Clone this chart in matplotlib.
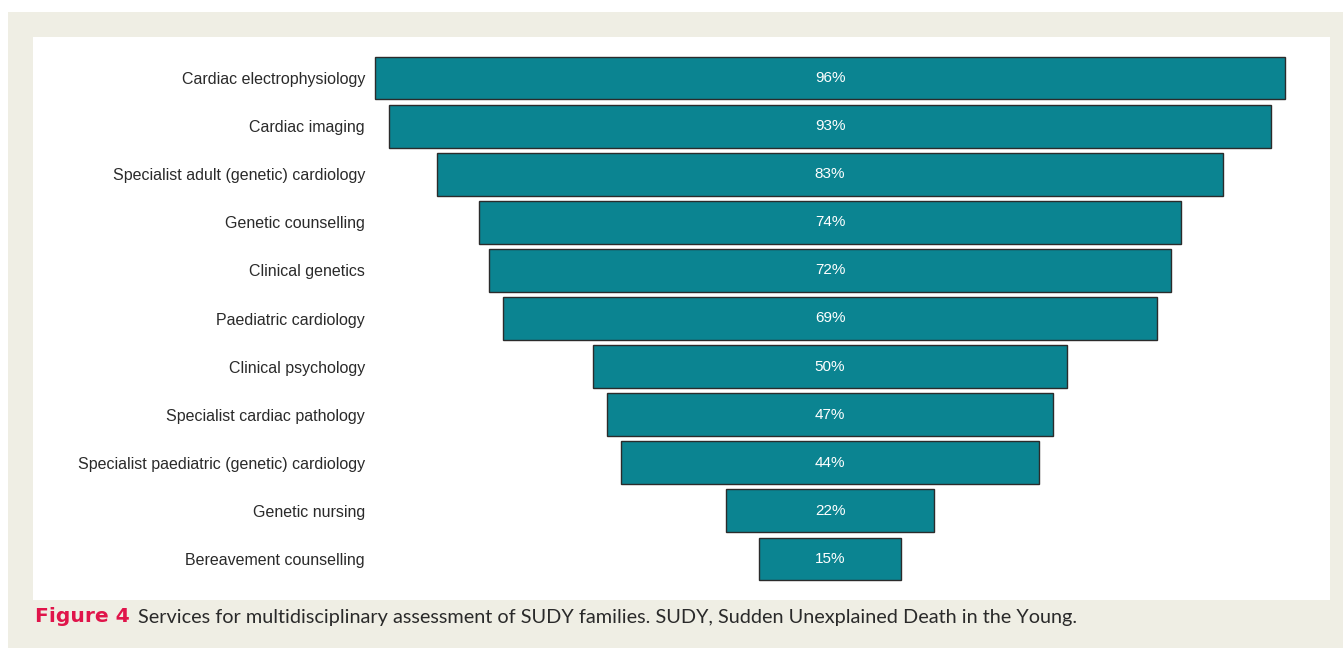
import matplotlib
matplotlib.use("Agg")
import matplotlib.pyplot as plt
from matplotlib.patches import Rectangle

categories = [
    "Cardiac electrophysiology",
    "Cardiac imaging",
    "Specialist adult (genetic) cardiology",
    "Genetic counselling",
    "Clinical genetics",
    "Paediatric cardiology",
    "Clinical psychology",
    "Specialist cardiac pathology",
    "Specialist paediatric (genetic) cardiology",
    "Genetic nursing",
    "Bereavement counselling",
]
values = [96, 93, 83, 74, 72, 69, 50, 47, 44, 22, 15]
value_labels = [f"{v}%" for v in values]

W, H = 1343, 648
fig = plt.figure(figsize=(W / 100, H / 100), dpi=100)
fig.patch.set_facecolor("white")

def px_rect(x0, y0, x1, y1, color):
    fig.patches.append(Rectangle((x0 / W, 1 - y1 / H), (x1 - x0) / W, (y1 - y0) / H,
                                 transform=fig.transFigure, facecolor=color,
                                 edgecolor="none", zorder=-10))

px_rect(8, 12, W, H, "#efeee4")
px_rect(33, 37, 1330, 600, "white")

# axes placement in pixels
L, R, T, B = 370, 1290, 40, 595
ax = fig.add_axes([L / W, 1 - B / H, (R - L) / W, (B - T) / H])
ax.set_facecolor("none")
pxper = 9.48
half = (R - L) / 2 / pxper
ax.set_xlim(-half, half)
y0px, pitch = 78, 48.1
ax.set_ylim((B - y0px) / pitch, (T - y0px) / pitch)

ys = list(range(len(categories)))
ax.barh(ys, values, left=[-v / 2 for v in values], height=0.89,
        color="#0b8491", edgecolor="#2b2b2b", linewidth=1.0)
for y, lab in zip(ys, value_labels):
    ax.text(0, y, lab, color="white", ha="center", va="center",
            fontsize=11, family="Liberation Sans")

ax.set_yticks(ys)
ax.set_yticklabels(categories, fontsize=11.5, family="Liberation Sans", color="#2a2a2a")
ax.tick_params(axis="y", length=0, pad=3.6)
ax.set_xticks([])
for s in ax.spines.values():
    s.set_visible(False)

t1 = fig.text(35 / W, 1 - 617 / H, "Figure 4", color="#e0144a", fontsize=14.6,
              fontweight="bold", family="DejaVu Sans", va="center", ha="left")
ann = plt.Annotation("Services for multidisciplinary assessment of SUDY families. SUDY, Sudden Unexplained Death in the Young.",
                     xy=(1, 0), xycoords=t1, xytext=(5.8, 0), textcoords="offset points",
                     va="bottom", ha="left",
                     fontsize=14.3, family="Lato", color="#2a2a2a")
ann.set_figure(fig)
fig.texts.append(ann)

fig.savefig("out.png", dpi=100, facecolor=fig.get_facecolor())
